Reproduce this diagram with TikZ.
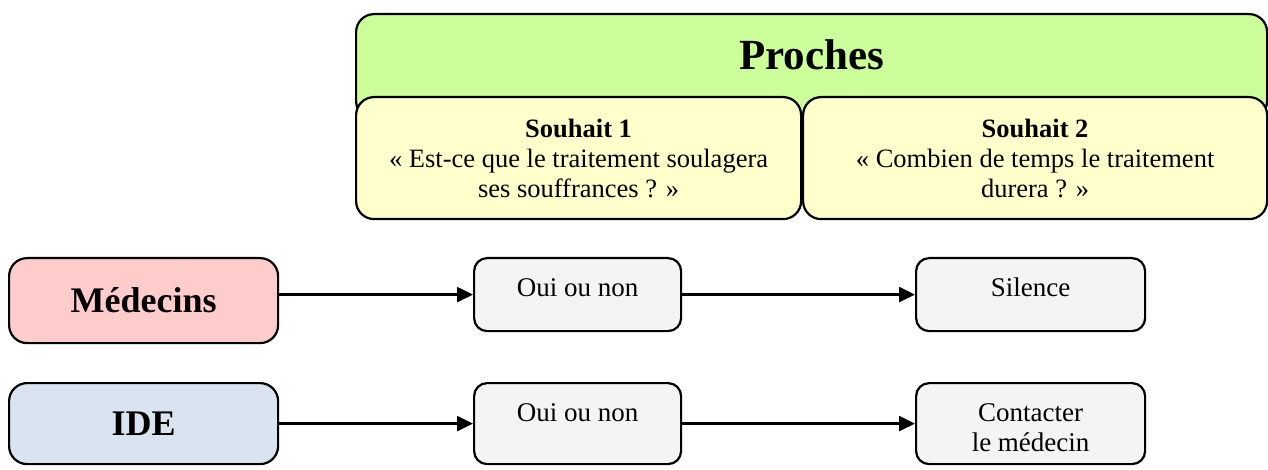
\documentclass[tikz,border=0pt]{standalone}
\usepackage{fontspec}
\setmainfont{Liberation Serif}
\usetikzlibrary{arrows.meta,positioning}
\definecolor{procheGreen}{HTML}{CCFF99}
\definecolor{souhaitYellow}{HTML}{FFFFCC}
\definecolor{medecinRed}{HTML}{FFCCCC}
\definecolor{ideBlue}{HTML}{DAE3F0}
\definecolor{answerGray}{HTML}{F4F4F4}

\begin{document}
\begin{tikzpicture}[x=1pt,y=-1pt,
  box/.style={draw, line width=2.2pt, rounded corners=18pt, anchor=north west, inner sep=0pt, align=center},
  answer/.style={box, fill=answerGray, rounded corners=13pt, font=\fontsize{27}{30}\selectfont},
  arr/.style={-{Triangle[length=16pt,width=15pt]}, line width=2.4pt}]
\useasboundingbox (0,0) rectangle (1268,470);
% proches and their wishes
\node[box, fill=procheGreen, minimum width=911pt, text height=55pt, text depth=50pt,
      font=\fontsize{43}{50}\selectfont\bfseries] (proches) at (355,13) {Proches};
\node[box, fill=souhaitYellow, minimum width=445pt, minimum height=122pt,
      font=\fontsize{26.5}{30}\selectfont] (souhait1) at (355,96)
  {\textbf{Souhait 1}\\« Est-ce que le traitement soulagera\\ses souffrances ? »};
\node[box, fill=souhaitYellow, minimum width=464pt, minimum height=122pt,
      font=\fontsize{26.5}{30}\selectfont] (souhait2) at (802,96)
  {\textbf{Souhait 2}\\« Combien de temps le traitement\\durera ? »};
% soignants
\node[box, fill=medecinRed, minimum width=269pt, minimum height=85pt,
      font=\fontsize{36}{43}\selectfont\bfseries] (medecins) at (8,257) {Médecins};
\node[box, fill=ideBlue, minimum width=269pt, minimum height=81pt,
      font=\fontsize{36}{43}\selectfont\bfseries] (ide) at (8,382) {IDE};
% reponses
\node[answer, minimum width=207pt, text height=38pt, text depth=35pt] (oui1) at (473,257) {Oui ou non};
\node[answer, minimum width=229pt, text height=38pt, text depth=35pt] (silence) at (915,257) {Silence};
\node[answer, minimum width=207pt, text height=38pt, text depth=43pt] (oui2) at (473,382) {Oui ou non};
\node[answer, minimum width=229pt, text height=68pt, text depth=13pt] (contact) at (915,382) {Contacter\\le médecin};
% fleches
\draw[arr] (medecins.east |- oui1.west) -- (oui1.west);
\draw[arr] (oui1.east) -- (oui1.east -| silence.west);
\draw[arr] (ide.east |- oui2.west) -- (oui2.west);
\draw[arr] (oui2.east) -- (oui2.east -| contact.west);
\end{tikzpicture}
\end{document}
